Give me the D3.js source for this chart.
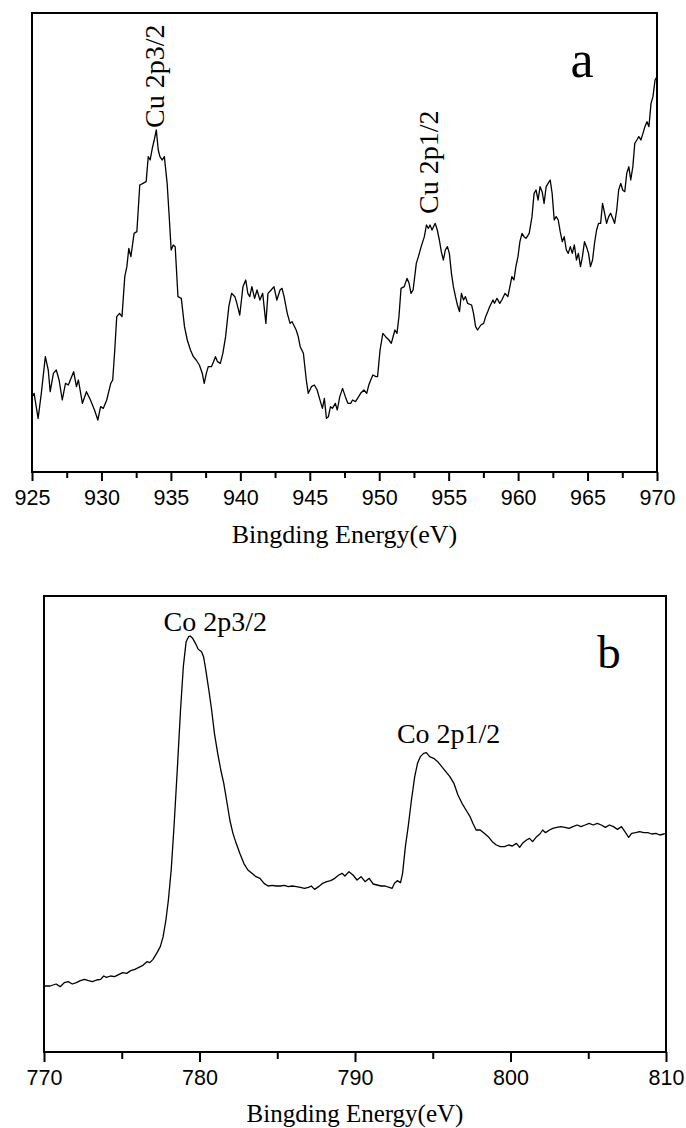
<!DOCTYPE html>
<html>
<head>
<meta charset="utf-8">
<script src="https://cdnjs.cloudflare.com/ajax/libs/d3/7.8.5/d3.min.js"></script>
<style>
	body { margin: 0; background: #fff; }
	svg { display: block; }
</style>
</head>
<body>
<div id="chart"></div>
<script>
//////////////////////////////
// DATA
//////////////////////////////

// panel a : Cu 2p
const energyA = [925.00,925.15,925.44,925.67,925.96,926.17,926.31,926.54,926.75,926.95,927.18,927.41,927.62,927.76,928.00,928.20,928.34,928.63,928.92,929.21,929.50,929.74,929.94,930.14,930.38,930.67,930.81,930.96,931.10,931.30,931.48,931.68,931.83,931.97,932.12,932.35,932.55,932.76,932.99,933.22,933.37,933.51,933.66,933.80,933.95,934.09,934.21,934.38,934.53,934.73,934.88,935.02,935.17,935.31,935.51,935.75,935.98,936.18,936.41,936.62,936.82,937.05,937.26,937.40,937.55,937.69,937.92,938.07,938.21,938.36,938.56,938.74,938.94,939.17,939.37,939.61,939.75,939.96,940.19,940.39,940.54,940.68,940.83,941.03,941.20,941.41,941.61,941.84,941.99,942.22,942.42,942.63,942.86,943.00,943.15,943.38,943.58,943.73,944.02,944.17,944.31,944.54,944.75,944.89,945.12,945.33,945.53,945.70,945.91,946.05,946.20,946.34,946.49,946.63,946.84,946.98,947.16,947.36,947.56,947.74,947.94,948.08,948.29,948.52,948.66,948.90,949.10,949.25,949.39,949.54,949.77,949.88,950.06,950.26,950.46,950.70,950.87,951.13,951.28,951.42,951.57,951.80,952.00,952.15,952.29,952.44,952.67,952.82,953.02,953.25,953.40,953.54,953.66,953.80,954.03,954.18,954.33,954.47,954.62,954.76,954.91,955.05,955.20,955.34,955.49,955.63,955.78,955.92,956.07,956.21,956.36,956.65,956.79,956.94,957.08,957.32,957.52,957.66,957.81,957.95,958.19,958.30,958.48,958.68,958.83,959.06,959.26,959.41,959.55,959.70,959.84,959.99,960.13,960.28,960.42,960.57,960.80,961.00,961.15,961.29,961.44,961.58,961.73,961.87,962.02,962.16,962.31,962.45,962.60,962.74,962.89,963.03,963.18,963.32,963.47,963.61,963.76,963.90,964.05,964.20,964.34,964.49,964.63,964.78,964.92,965.07,965.21,965.36,965.50,965.65,965.79,965.94,966.08,966.23,966.37,966.52,966.66,966.81,966.95,967.10,967.24,967.39,967.53,967.68,967.82,967.97,968.11,968.26,968.40,968.55,968.69,968.84,968.99,969.13,969.28,969.42,969.57,969.71,969.86,970.00]
const intensityA = [22.6,23.6,16.1,23.6,34.6,30.6,24.1,29.6,30.6,27.6,21.6,26.6,26.1,27.6,30.1,25.6,27.6,20.6,24.1,21.6,18.6,15.6,19.6,19.1,21.6,26.6,27.6,36.6,46.6,47.6,46.6,58.6,61.6,67.1,64.6,71.6,72.1,86.1,86.6,87.1,94.6,93.6,97.1,99.6,102.6,96.6,94.6,93.6,94.6,86.6,76.6,66.6,68.1,67.6,52.6,52.1,43.6,39.6,36.6,34.6,33.6,32.1,29.6,26.6,29.6,31.6,31.6,33.1,34.6,33.1,32.6,35.6,40.6,49.6,53.6,52.6,50.6,47.1,55.6,57.6,53.6,52.6,55.6,52.1,54.6,51.6,53.6,44.6,53.6,54.6,55.6,51.6,54.6,55.1,52.6,47.6,44.6,45.1,42.6,40.6,37.6,35.6,27.6,23.6,25.6,26.1,24.6,22.1,19.1,22.1,16.1,16.6,19.6,19.1,20.6,18.6,22.6,25.1,22.6,20.6,20.6,21.6,21.1,22.6,23.6,24.6,23.6,26.1,27.6,29.1,28.6,28.6,36.6,41.6,40.6,39.6,38.6,42.6,41.6,46.6,55.1,55.6,58.1,56.6,53.6,54.6,62.6,64.6,67.6,70.6,74.1,73.1,74.1,72.6,74.6,72.6,69.6,66.1,63.6,66.6,67.6,65.6,59.6,55.6,52.6,50.1,48.1,53.6,51.6,52.6,50.6,50.1,47.6,43.6,42.6,44.1,44.6,46.6,48.1,49.6,51.6,50.6,52.1,50.6,51.6,53.6,52.6,55.6,58.6,57.6,61.6,64.6,69.1,71.6,70.6,70.1,71.6,76.6,83.6,84.6,81.6,85.6,84.1,80.6,85.6,86.6,87.6,83.6,75.6,76.6,75.6,72.1,69.1,70.6,66.6,65.6,67.6,65.6,68.1,63.6,65.6,61.6,64.6,69.1,67.6,65.6,61.6,63.6,68.6,72.6,74.6,74.6,80.6,77.6,74.6,76.6,77.6,76.1,74.6,78.6,84.6,86.6,84.6,84.1,89.6,91.6,87.6,91.6,98.6,99.6,100.6,99.6,101.6,103.6,105.1,103.6,110.6,112.6,117.6,118.6]
const majorTicksA = [925, 930, 935, 940, 945, 950, 955, 960, 965, 970]
const minorTicksA = [927.5, 932.5, 937.5, 942.5, 947.5, 952.5, 957.5, 962.5, 967.5]
const peakNamesA = ["Cu 2p3/2", "Cu 2p1/2"]
const peakEnergyA = [934.50, 954.23]
const peakLevelA = [103.2, 77.4]

// panel b : Co 2p
const energyB = [770.00,770.39,770.78,771.04,771.30,771.56,771.82,772.08,772.34,772.60,772.86,773.12,773.38,773.64,773.84,774.02,774.28,774.54,774.80,775.06,775.32,775.58,775.84,776.10,776.36,776.62,776.80,777.01,777.27,777.48,777.66,777.84,778.00,778.18,778.36,778.57,778.78,778.96,779.14,779.30,779.40,779.56,779.74,779.92,780.13,780.26,780.39,780.60,780.78,780.96,781.17,781.37,781.56,781.74,781.95,782.15,782.36,782.59,782.85,783.11,783.37,783.63,783.89,784.15,784.41,784.67,784.93,785.19,785.45,785.71,785.97,786.23,786.49,786.75,787.01,787.19,787.40,787.66,787.92,788.18,788.44,788.70,788.96,789.17,789.35,789.61,789.87,790.13,790.39,790.65,790.91,791.17,791.42,791.68,791.94,792.20,792.39,792.54,792.72,792.93,793.06,793.24,793.42,793.63,793.84,794.02,794.20,794.41,794.59,794.80,795.06,795.32,795.58,795.84,796.10,796.36,796.62,796.88,797.14,797.40,797.58,797.79,798.05,798.31,798.57,798.83,799.09,799.35,799.61,799.87,800.12,800.38,800.59,800.77,801.03,801.22,801.42,801.68,801.89,802.07,802.25,802.51,802.72,802.98,803.24,803.50,803.76,804.02,804.28,804.54,804.80,805.06,805.32,805.58,805.84,806.10,806.36,806.62,806.88,807.14,807.40,807.60,807.79,808.05,808.31,808.57,808.83,809.09,809.35,809.60,809.86,810.00]
const intensityB = [19.8,19.8,20.4,19.6,20.8,21.1,20.4,20.8,21.4,21.8,21.4,21.1,21.6,21.8,22.8,22.4,22.8,22.6,23.2,23.8,23.6,24.4,24.8,25.4,26.0,27.1,26.8,27.8,29.8,31.6,34.6,39.6,45.6,54.6,67.6,84.6,102.6,115.6,123.1,124.6,124.8,124.1,122.6,120.8,120.1,118.6,115.1,108.6,102.6,95.6,89.6,84.6,80.6,75.6,69.6,65.6,62.6,59.6,56.6,54.6,53.6,52.6,52.1,50.6,49.8,50.0,49.8,49.8,50.0,49.6,49.8,49.6,49.4,49.1,49.4,49.8,48.8,49.6,50.6,51.1,51.4,52.1,53.1,53.6,52.8,54.1,53.1,51.6,52.6,51.1,52.1,50.4,50.1,49.8,49.8,49.4,49.1,50.6,51.4,50.8,53.6,61.6,67.6,75.6,82.6,86.6,88.6,89.6,89.8,88.6,88.1,87.1,85.6,84.1,82.6,80.6,77.1,74.6,72.6,70.6,68.6,66.6,66.6,65.6,64.6,63.1,62.1,61.6,61.6,62.1,61.8,62.6,61.4,62.6,63.6,64.1,63.1,64.6,65.4,66.6,65.8,66.6,67.1,67.4,67.6,67.4,67.1,67.6,68.1,67.6,68.1,68.6,68.1,68.6,68.1,67.4,68.1,67.6,66.8,67.6,65.8,64.4,65.6,65.8,66.1,65.8,65.8,65.4,65.6,65.1,65.4,65.6]
const majorTicksB = [770, 780, 790, 800, 810]
const minorTicksB = [775, 785, 795, 805]
const peakNamesB = ["Co 2p3/2", "Co 2p1/2"]
const peakEnergyB = [781.01, 796.02]
const peakLevelB = [126.3, 92.7]

//////////////////////////////
// PANEL
//////////////////////////////

const W = 686
const H = 1128

let svg = d3.select("#chart").append("svg").attr("width", W).attr("height", H)

const panel = (opt) => {
	let x = d3.scaleLinear().domain(opt.xDomain).range([opt.left, opt.right])
	let y = d3.scaleLinear().domain(opt.yDomain).range([opt.bottom, opt.top])

	let g = svg.append("g")

	// spectrum
	let pts = opt.energy.map((e, i) => [e, opt.intensity[i]])
	let line = d3.line().x(d => x(d[0])).y(d => y(d[1]))
	g.append("path").datum(pts)
		.attr("d", line)
		.attr("fill", "none")
		.attr("stroke", "#000")
		.attr("stroke-width", 1.3)
		.attr("stroke-linejoin", "round")

	// frame
	g.append("rect")
		.attr("x", opt.left).attr("y", opt.top)
		.attr("width", opt.right - opt.left).attr("height", opt.bottom - opt.top)
		.attr("fill", "none").attr("stroke", "#000").attr("stroke-width", 2)

	// ticks
	let major = g.append("g").attr("transform", "translate(0," + opt.bottom + ")")
		.call(d3.axisBottom(x).tickValues(opt.major).tickSize(opt.tickLen).tickSizeOuter(0).tickFormat(d3.format("d")))
	major.select(".domain").remove()
	major.selectAll("line").attr("stroke-width", 2)
	major.selectAll("text")
		.attr("y", opt.labelY - opt.bottom).attr("dy", 0)
		.style("font-family", "'Liberation Sans', Arial, sans-serif")
		.style("font-size", "21.5px").attr("fill", "#000")

	let minor = g.append("g").attr("transform", "translate(0," + opt.bottom + ")")
		.call(d3.axisBottom(x).tickValues(opt.minor).tickSize(opt.tickLen - 3).tickFormat(""))
	minor.select(".domain").remove()
	minor.selectAll("line").attr("stroke-width", 2)

	// axis title
	g.append("text")
		.attr("x", (opt.left + opt.right) / 2).attr("y", opt.titleY)
		.attr("text-anchor", "middle")
		.style("font-family", "'Liberation Serif', 'Times New Roman', serif")
		.style("font-size", opt.titleSize + "px")
		.text("Bingding Energy(eV)")

	// peak labels
	opt.names.forEach((n, i) => {
		let px = x(opt.peakE[i])
		let py = y(opt.peakI[i])
		let t = g.append("text")
			.style("font-family", "'Liberation Serif', 'Times New Roman', serif")
			.style("font-size", "28px")
			.text(n)
		if (opt.rotate) {
			t.attr("transform", "translate(" + px + "," + py + ") rotate(-90)")
		} else {
			t.attr("x", px).attr("y", py).attr("text-anchor", "middle")
		}
	})

	// panel letter
	g.append("text")
		.attr("x", opt.right - opt.letterDx).attr("y", opt.top + opt.letterDy)
		.attr("text-anchor", "middle")
		.style("font-family", "'Liberation Serif', 'Times New Roman', serif")
		.style("font-size", opt.letterSize + "px")
		.text(opt.letter)
}

//////////////////////////////
// DRAW
//////////////////////////////

panel({
	energy: energyA, intensity: intensityA,
	xDomain: [925, 970], yDomain: [0, 137.7],
	left: 32, right: 657, top: 13, bottom: 472,
	major: majorTicksA, minor: minorTicksA, tickLen: 9,
	labelY: 505, titleY: 543, titleSize: 26,
	names: peakNamesA, peakE: peakEnergyA, peakI: peakLevelA, rotate: true,
	letter: "a", letterDx: 75, letterDy: 64, letterSize: 52
})

panel({
	energy: energyB, intensity: intensityB,
	xDomain: [770, 810], yDomain: [0, 136.8],
	left: 44, right: 666, top: 596, bottom: 1052,
	major: majorTicksB, minor: minorTicksB, tickLen: 10,
	labelY: 1085, titleY: 1122, titleSize: 25,
	names: peakNamesB, peakE: peakEnergyB, peakI: peakLevelB, rotate: false,
	letter: "b", letterDx: 57, letterDy: 72, letterSize: 47
})
</script>
</body>
</html>
